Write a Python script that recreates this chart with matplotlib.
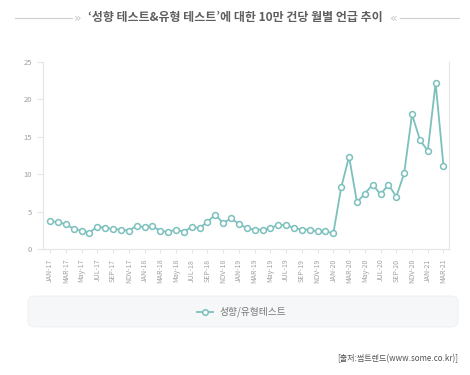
import matplotlib.pyplot as plt
from matplotlib.patches import FancyBboxPatch
from matplotlib.lines import Line2D

plt.rcParams['font.family'] = ['Noto Sans CJK KR', 'DejaVu Sans']

# monthly mentions per 100k posts, JAN-17 .. MAR-21
values = [3.7, 3.6, 3.3, 2.7, 2.45, 2.2, 3.0, 2.85, 2.65, 2.6, 2.45, 3.1,
          2.9, 3.1, 2.4, 2.3, 2.6, 2.3, 2.95, 2.8, 3.65, 4.6, 3.45, 4.1,
          3.35, 2.8, 2.55, 2.6, 2.8, 3.2, 3.2, 2.8, 2.6, 2.6, 2.35, 2.35,
          2.1, 8.25, 12.35, 6.25, 7.4, 8.6, 7.3, 8.6, 7.0, 10.1, 18.0,
          14.6, 13.1, 22.2, 11.1]
tick_labels = ['JAN-17', 'MAR-17', 'May-17', 'JUL-17', 'SEP-17', 'NOV-17',
               'JAN-18', 'MAR-18', 'May-18', 'JUL-18', 'SEP-18', 'NOV-18',
               'JAN-19', 'MAR-19', 'May-19', 'JUL-19', 'SEP-19', 'NOV-19',
               'JAN-20', 'MAR-20', 'May-20', 'JUL-20', 'SEP-20', 'NOV-20',
               'JAN-21', 'MAR-21']
series_name = '성향/유형테스트'
title = '‘성향 테스트&유형 테스트’에 대한 10만 건당 월별 언급 추이'
source = '[출처:썸트렌드(www.some.co.kr)]'

teal = '#7cc0bd'
grey = '#a0a0a0'
axis_col = '#e4e4e4'

W, H = 470, 375
fig = plt.figure(figsize=(W / 100, H / 100), dpi=100)
fig.patch.set_facecolor('white')

ax = fig.add_axes([43 / W, 1 - 249 / H, (449 - 43) / W, (249 - 62) / H])
x = list(range(len(values)))
ax.plot(x, values, color=teal, lw=1.3, marker='o', ms=4.2,
        mfc='white', mec=teal, mew=1.1, zorder=3)

ax.set_xlim(-0.9, 50.7)
ax.set_ylim(0, 25)
ax.set_yticks([0, 5, 10, 15, 20, 25])
ax.set_xticks(range(0, len(values), 2))
ax.set_xticklabels(tick_labels, rotation=90)
ax.tick_params(axis='x', length=3, color=axis_col, labelsize=5,
               labelcolor=grey, pad=4)
ax.tick_params(axis='y', length=4, color=axis_col, labelsize=5.5,
               labelcolor=grey, pad=4)
for side in ['left', 'right', 'bottom']:
    ax.spines[side].set_color(axis_col)
    ax.spines[side].set_linewidth(0.8)
ax.spines['top'].set_visible(False)

# title with decorative lines
ty = 1 - 18 / H
fig.text(0.5, ty, title, ha='center', va='center', fontsize=8.6,
         color='#5e5e5e', fontweight='bold')
fig.add_artist(Line2D([15 / W, 72 / W], [ty] * 2, color='#cfcfcf', lw=0.8))
fig.add_artist(Line2D([400 / W, 459 / W], [ty] * 2, color='#cfcfcf', lw=0.8))
fig.text(78 / W, ty, '»', ha='center', va='center', fontsize=9,
         color='#c8c8c8', family='DejaVu Sans')
fig.text(394 / W, ty, '«', ha='center', va='center', fontsize=9,
         color='#c8c8c8', family='DejaVu Sans')

# legend box
box = FancyBboxPatch((28 / W, 1 - 327 / H), 430 / W, 31 / H,
                     boxstyle='round,pad=0,rounding_size=0.015',
                     transform=fig.transFigure, facecolor='#f6f7f9',
                     edgecolor='#eeeff2', lw=0.6)
fig.add_artist(box)
ly = 1 - 312 / H
fig.add_artist(Line2D([197 / W, 213 / W], [ly, ly], color=teal, lw=1.3))
fig.add_artist(Line2D([205 / W], [ly], color=teal, marker='o', ms=4,
                      mfc='white', mec=teal, mew=1.1))
fig.text(220 / W, ly, series_name, ha='left', va='center', fontsize=7,
         color='#777777')

fig.text(458 / W, 1 - 359 / H, source, ha='right', va='center',
         fontsize=5.8, color='#555555')

fig.savefig('out.png', dpi=100, facecolor='white')
